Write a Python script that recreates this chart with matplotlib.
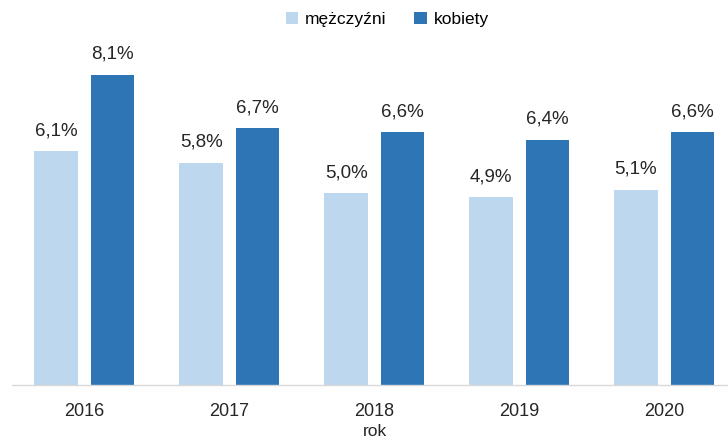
import matplotlib.pyplot as plt
import numpy as np

plt.rcParams['font.family'] = ['Liberation Sans', 'DejaVu Sans']

years = ['2016', '2017', '2018', '2019', '2020']
men = [6.1, 5.8, 5.0, 4.9, 5.1]
women = [8.1, 6.7, 6.6, 6.4, 6.6]
men_labels = ['6,1%', '5,8%', '5,0%', '4,9%', '5,1%']
women_labels = ['8,1%', '6,7%', '6,6%', '6,4%', '6,6%']

fig = plt.figure(figsize=(7.28, 4.41), dpi=100)
ax = fig.add_axes([12 / 728, 56 / 441, 716 / 728, 345 / 441])

x = np.arange(len(years))
w = 0.30
off = 0.195
b1 = ax.bar(x - off, men, w, color='#BDD7EE', label='mężczyźni')
b2 = ax.bar(x + off, women, w, color='#2E75B6', label='kobiety')

for bars, labs in ((b1, men_labels), (b2, women_labels)):
    for b, lab in zip(bars, labs):
        ax.annotate(lab, (b.get_x() + b.get_width() / 2, b.get_height()),
                    xytext=(0, 8.5), textcoords='offset points',
                    ha='center', va='bottom', fontsize=13.5, color='#262626')

ax.set_xlim(-0.5, 4.44)
ax.set_ylim(0, 9)
ax.set_xticks(x)
ax.set_xticklabels(years, fontsize=13, color='#262626')
ax.tick_params(axis='x', length=0, pad=13)
ax.set_yticks([])
for s in ['top', 'right', 'left']:
    ax.spines[s].set_visible(False)
ax.spines['bottom'].set_color('#D9D9D9')
ax.spines['bottom'].set_linewidth(1)

fig.text(375 / 728, 1 - 432 / 441, 'rok', ha='center', va='center',
         fontsize=12.5, color='#262626')

fig.legend(loc='center', bbox_to_anchor=(0.532, 0.955), ncol=2, frameon=False,
           fontsize=12.5, handlelength=0.7, handleheight=0.7,
           handletextpad=0.4, columnspacing=1.6)

fig.savefig('out.png', dpi=100)
